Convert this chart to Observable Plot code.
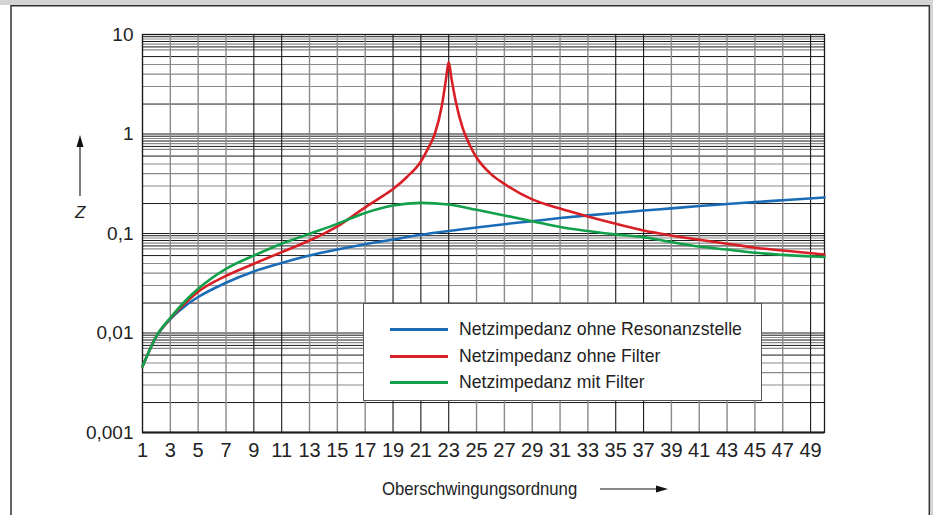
<!DOCTYPE html>
<html>
<head>
<meta charset="utf-8">
<script src="https://cdn.jsdelivr.net/npm/d3@7"></script>
<script src="https://cdn.jsdelivr.net/npm/@observablehq/plot@0.6"></script>
<style>
  html, body { margin: 0; padding: 0; background: #fff; }
  #wrap { position: relative; width: 933px; height: 515px; overflow: hidden; }
  #chart, #deco { position: absolute; left: 0; top: 0; }
  #deco { pointer-events: none; }
  .narrow { font-family: "Liberation Sans Narrow", "Arial Narrow", "Liberation Sans", sans-serif; }
  #legend {
    position: absolute; left: 363px; top: 303px; width: 399px; height: 98px;
    border: 1px solid #555; background: #fff; box-sizing: border-box;
  }
  .lg-row { position: absolute; left: 0; height: 24px; width: 100%; }
  .lg-line { position: absolute; left: 26px; top: 11px; width: 58px; height: 3px; }
  .lg-text { position: absolute; left: 95px; top: 0; font-size: 19px; line-height: 24px; color: #222; white-space: nowrap;
             transform: scaleX(0.93); transform-origin: 0 50%; }
  #xtitle { position: absolute; left: 382px; top: 477px; font-size: 19px; line-height: 24px; color: #222; white-space: nowrap;
            transform: scaleX(0.88); transform-origin: 0 50%; }
  #ztitle { position: absolute; left: 75px; top: 201px; font-size: 17px; line-height: 24px; color: #222; font-style: italic; font-family: "Liberation Sans", sans-serif; }
</style>
</head>
<body>
<div id="wrap">
  <div id="chart"></div>
  <svg id="deco" width="933" height="515"></svg>
  <div id="legend"></div>
  <div id="xtitle" class="narrow">Oberschwingungsordnung</div>
  <div id="ztitle">Z</div>
</div>
<script>
// ---------- data ----------
const seriesNames = ["Netzimpedanz ohne Resonanzstelle", "Netzimpedanz ohne Filter", "Netzimpedanz mit Filter"];
const seriesColors = ["#1b6cb6", "#d91f26", "#12a14a"];

const orders = [1, 2, 3, 4, 5, 7, 9, 11, 13, 15, 17, 19, 21, 23, 25, 27, 29, 31, 33, 35, 37, 39, 41, 43, 45, 47, 50];
const zOhneResonanz = [0.0046, 0.0092, 0.0138, 0.0184, 0.023, 0.032, 0.0415, 0.0505, 0.060, 0.069, 0.078, 0.087, 0.097, 0.106, 0.115, 0.124, 0.133, 0.143, 0.152, 0.161, 0.170, 0.179, 0.189, 0.198, 0.207, 0.216, 0.230];
const zMitFilter = [0.0046, 0.0093, 0.0142, 0.0205, 0.0278, 0.0441, 0.060, 0.079, 0.0993, 0.125, 0.161, 0.191, 0.203, 0.196, 0.173, 0.152, 0.133, 0.116, 0.106, 0.098, 0.092, 0.082, 0.074, 0.069, 0.064, 0.061, 0.058];

const ordersOhneFilter = [1, 2, 3, 4, 5, 7, 9, 11, 13, 15, 17, 18, 19, 20, 21, 21.5, 22, 22.5, 22.8, 23, 23.2, 23.5, 24, 24.5, 25, 26, 27, 29, 31, 33, 35, 37, 39, 41, 43, 45, 47, 50];
const zOhneFilter = [0.0046, 0.0093, 0.0140, 0.0195, 0.026, 0.0375, 0.0496, 0.065, 0.085, 0.118, 0.183, 0.225, 0.28, 0.37, 0.53, 0.71, 1.0, 1.9, 3.5, 5.3, 3.6, 2.15, 1.15, 0.78, 0.58, 0.40, 0.315, 0.22, 0.178, 0.148, 0.125, 0.107, 0.0955, 0.0865, 0.079, 0.072, 0.0675, 0.0615];

const xTicks = [1, 3, 5, 7, 9, 11, 13, 15, 17, 19, 21, 23, 25, 27, 29, 31, 33, 35, 37, 39, 41, 43, 45, 47, 49];
const xBlackLines = [1, 9, 11, 19, 21, 23, 35, 37, 49];
const yTicks = [0.001, 0.01, 0.1, 1, 10];
const yTickLabels = ["0,001", "0,01", "0,1", "1", "10"];
const unitTick = [3.4];
const unitLabel = "Ω";
const decades = [0.001, 0.01, 0.1, 1];
const gridMultipliers = [1, 2, 3, 4, 5, 6, 7, 7.5, 8, 8.5, 9, 9.5];
const gridBlackMultipliers = [1, 2, 6, 7.5, 8.5, 9.5];

// ---------- build tables ----------
const rows = [];
orders.forEach((o, i) => rows.push({order: o, z: zOhneResonanz[i], series: seriesNames[0]}));
ordersOhneFilter.forEach((o, i) => rows.push({order: o, z: zOhneFilter[i], series: seriesNames[1]}));
orders.forEach((o, i) => rows.push({order: o, z: zMitFilter[i], series: seriesNames[2]}));

const hBlack = [], hGrey = [];
decades.forEach(d => gridMultipliers.forEach(m => {
  const v = d * m;
  (gridBlackMultipliers.includes(m) ? hBlack : hGrey).push(v);
}));
const vBlack = xTicks.filter(t => xBlackLines.includes(t));
const vGrey = xTicks.filter(t => !xBlackLines.includes(t));

const sans = '"Liberation Sans", Arial, sans-serif';

const chart = Plot.plot({
  width: 933,
  height: 515,
  marginLeft: 142,
  marginRight: 109,
  marginTop: 34,
  marginBottom: 83,
  style: {background: "transparent", color: "#222"},
  x: {domain: [1, 50]},
  y: {type: "log", domain: [0.001, 10]},
  color: {domain: seriesNames, range: seriesColors},
  marks: [
    Plot.ruleY(hGrey, {stroke: "#8a8a8a", strokeWidth: 1.1}),
    Plot.ruleY(hBlack, {stroke: "#1a1a1a", strokeWidth: 1}),
    Plot.ruleX(vGrey, {stroke: "#8a8a8a", strokeWidth: 1.4}),
    Plot.ruleX(vBlack, {stroke: "#1a1a1a", strokeWidth: 1.1}),
    Plot.frame({stroke: "#1a1a1a", strokeWidth: 1.3}),
    Plot.ruleY([0.001], {stroke: "#1a1a1a", strokeWidth: 2}),
    Plot.line(rows, {x: "order", y: "z", z: "series", stroke: "series", strokeWidth: 2.6, curve: "monotone-x"}),
    Plot.axisX({ticks: xTicks, tickSize: 0, tickPadding: 10, fontSize: 20, fontFamily: sans, label: null}),
    Plot.axisY({ticks: yTicks, tickFormat: d => yTickLabels[yTicks.indexOf(d)], tickSize: 0, tickPadding: 9, fontSize: 19, fontFamily: sans, label: null}),
    Plot.axisY({ticks: unitTick, tickFormat: () => unitLabel, tickSize: 0, tickPadding: 14, fontSize: 18, fontFamily: sans, label: null})
  ]
});
document.getElementById("chart").appendChild(chart);

// ---------- legend ----------
const legend = document.getElementById("legend");
seriesNames.forEach((name, i) => {
  const row = document.createElement("div");
  row.className = "lg-row";
  row.style.top = (13 + i * 26.5) + "px";
  const ln = document.createElement("div");
  ln.className = "lg-line";
  ln.style.background = seriesColors[i];
  const tx = document.createElement("div");
  tx.className = "lg-text narrow";
  tx.textContent = name;
  row.appendChild(ln); row.appendChild(tx);
  legend.appendChild(row);
});

// ---------- decorations: page frame and axis arrows ----------
const deco = d3.select("#deco");
deco.append("rect").attr("x", 0).attr("y", 0).attr("width", 933).attr("height", 5).attr("fill", "#d4d4d4");
deco.append("rect").attr("x", 930).attr("y", 0).attr("width", 3).attr("height", 515).attr("fill", "#d4d4d4");
deco.append("path").attr("d", "M11,515 V5.7 H929.3 V515").attr("fill", "none").attr("stroke", "#333").attr("stroke-width", 1.5);
// x title arrow
deco.append("line").attr("x1", 600).attr("y1", 489).attr("x2", 658).attr("y2", 489).attr("stroke", "#111").attr("stroke-width", 1.1);
deco.append("path").attr("d", "M668,489 L656,485.5 L656,492.5 Z").attr("fill", "#111");
// y title arrow
deco.append("line").attr("x1", 80).attr("y1", 196).attr("x2", 80).attr("y2", 145).attr("stroke", "#111").attr("stroke-width", 1.1);
deco.append("path").attr("d", "M80,135 L76.5,147 L83.5,147 Z").attr("fill", "#111");
</script>
</body>
</html>
